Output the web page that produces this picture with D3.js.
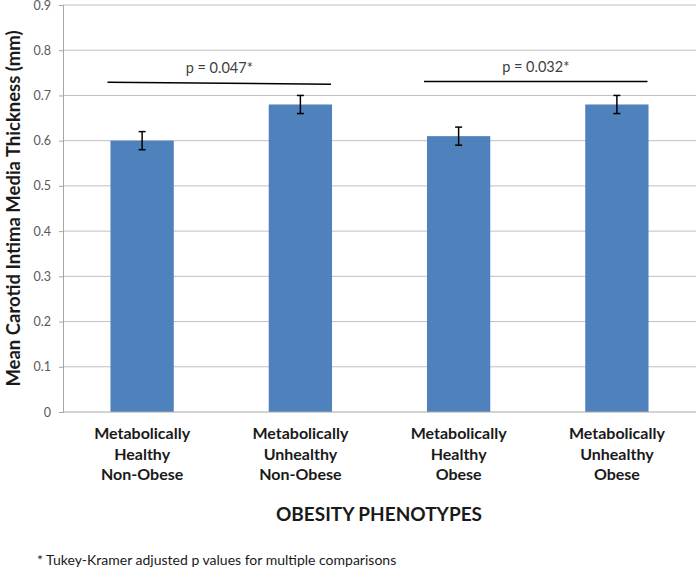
<!DOCTYPE html>
<html><head><meta charset="utf-8">
<script src="https://cdn.jsdelivr.net/npm/d3@7"></script>
<style>body{margin:0;background:#fff;} svg{display:block;font-family:Lato,"Open Sans",sans-serif;}</style>
</head><body>
<script>
const categories = [
  ["Metabolically","Healthy","Non-Obese"],
  ["Metabolically","Unhealthy","Non-Obese"],
  ["Metabolically","Healthy","Obese"],
  ["Metabolically","Unhealthy","Obese"]
];
const values = [0.60, 0.68, 0.61, 0.68];
const errors = [0.02, 0.02, 0.02, 0.02];
const yTicks = [0,0.1,0.2,0.3,0.4,0.5,0.6,0.7,0.8,0.9];
const comparisons = [
  {from:0, to:1, label:"p = 0.047*", y0:0.729, y1:0.725},
  {from:2, to:3, label:"p = 0.032*", y0:0.731, y1:0.731}
];
const yTitle = "Mean Carotid Intima Media Thickness (mm)";
const xTitle = "OBESITY PHENOTYPES";
const footnote = "* Tukey-Kramer adjusted p values for multiple comparisons";

const W=696,H=567;
const m={left:63,right:0,top:5,bottom:155};
const svg=d3.select("body").append("svg").attr("width",W).attr("height",H);
const x=d3.scaleBand().domain(d3.range(categories.length)).range([m.left,W-m.right]).paddingInner(0.6).paddingOuter(0.3);
const y=d3.scaleLinear().domain([0,0.9]).range([H-m.bottom,m.top]);

svg.append("g").selectAll("line").data(yTicks.slice(1)).join("line")
  .attr("x1",m.left).attr("x2",W).attr("y1",d=>y(d)).attr("y2",d=>y(d))
  .attr("stroke","#c0c0c0").attr("stroke-width",1);

const ya=svg.append("g").attr("transform",`translate(${m.left},0)`)
  .call(d3.axisLeft(y).tickValues(yTicks).tickFormat(d=>d===0?"0":d3.format(".1f")(d)).tickSizeOuter(0).tickSize(4).tickPadding(8));
ya.select(".domain").attr("stroke","#a6a6a6");
ya.selectAll(".tick line").attr("stroke","#a6a6a6");
ya.selectAll("text").attr("fill","#595959").style("font-size","12.5px").style("font-family","Lato, sans-serif");

svg.append("g").selectAll("rect").data(values).join("rect")
  .attr("x",(d,i)=>x(i)).attr("width",x.bandwidth())
  .attr("y",d=>y(d)).attr("height",d=>y(0)-y(d)).attr("fill","#4f81bd");

svg.append("line").attr("x1",m.left).attr("x2",W).attr("y1",y(0)).attr("y2",y(0)).attr("stroke","#a6a6a6");

const eb=svg.append("g").attr("stroke","#000").attr("stroke-width",1.5);
values.forEach((v,i)=>{
  const cx=x(i)+x.bandwidth()/2;
  eb.append("line").attr("x1",cx).attr("x2",cx).attr("y1",y(v+errors[i])).attr("y2",y(v-errors[i]));
  eb.append("line").attr("x1",cx-3.5).attr("x2",cx+3.5).attr("y1",y(v+errors[i])).attr("y2",y(v+errors[i]));
  eb.append("line").attr("x1",cx-3.5).attr("x2",cx+3.5).attr("y1",y(v-errors[i])).attr("y2",y(v-errors[i]));
});

comparisons.forEach(c=>{
  const xa=x(c.from)-3, xb=x(c.to)+x.bandwidth()-1;
  svg.append("line").attr("x1",xa).attr("x2",xb).attr("y1",y(c.y0)).attr("y2",y(c.y1)).attr("stroke","#000").attr("stroke-width",1.5);
  svg.append("text").attr("x",(xa+xb)/2).attr("y",y(c.y0)-9).attr("text-anchor","middle")
    .attr("fill","#404040").style("font-size","14.5px").text(c.label);
});

categories.forEach((lines,i)=>{
  const t=svg.append("text").attr("text-anchor","middle").attr("font-weight","bold").style("font-size","16px").attr("fill","#1a1a1a");
  lines.forEach((l,j)=>t.append("tspan").attr("x",x(i)+x.bandwidth()/2).attr("y",439+j*20.5).text(l));
});

svg.append("text").attr("transform",`translate(20,${y(0.45)}) rotate(-90)`).attr("text-anchor","middle")
  .attr("font-weight","bold").style("font-size","18.5px").attr("fill","#1a1a1a").text(yTitle);
svg.append("text").attr("x",379).attr("y",521).attr("text-anchor","middle")
  .attr("font-weight","bold").style("font-size","19px").attr("fill","#1a1a1a").text(xTitle);
svg.append("text").attr("x",37).attr("y",565).style("font-size","14px").attr("fill","#1a1a1a").text(footnote);
</script>
</body></html>
